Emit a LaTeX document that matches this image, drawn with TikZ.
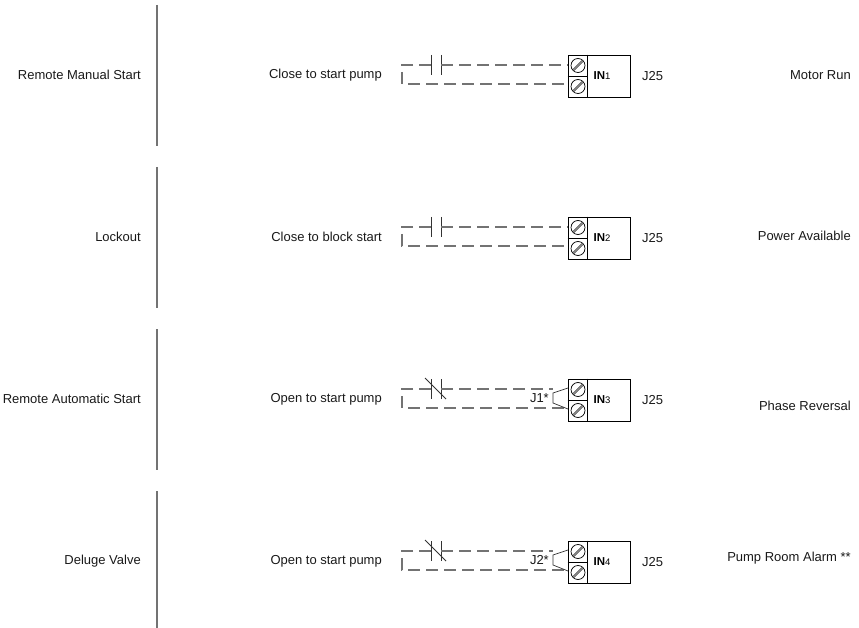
\documentclass[tikz,border=0pt]{standalone}
\usepackage{fontspec}
\setmainfont{Liberation Sans}
\begin{document}
\begin{tikzpicture}[x=1pt,y=-1pt]
	\tikzset{txt/.style = {font=\fontsize{13}{15}\selectfont, text=black!90, inner sep=0pt}}
	\tikzset{tblock/.style = {draw, line width=0.9pt, minimum width=62pt, minimum height=42pt, inner sep=0pt}}
	\tikzset{screw/.style = {shape=circle, draw, line width=0.7pt, minimum size=14pt, inner sep=0pt}}
	\tikzset{wire/.style = {draw=black!55, line width=1.3pt, dash pattern=on 12pt off 6pt}}
	\tikzset{contact/.style = {draw=black!80, line width=0.9pt}}
	\tikzset{sep/.style = {draw=black!55, line width=1.4pt}}
	\useasboundingbox (0,0) rectangle (859,628);
	% one row per input
	\foreach \i/\ytop/\lname/\mname/\rname/\ry in {1/55/Remote Manual Start/Close to start pump/Motor Run/20,
		2/217/Lockout/Close to block start/Power Available/19,
		3/379/Remote Automatic Start/Open to start pump/Phase Reversal/27,
		4/541/Deluge Valve/Open to start pump/Pump Room Alarm **/17}{
		\draw[sep] (157,\ytop-50) -- (157,\ytop+91);
		\node[txt, anchor=east] (lab\i) at (141,\ytop+20) {\lname};
		\node[txt, anchor=east] (mid\i) at (382,\ytop+20) {\mname};
		\node[txt, anchor=east] (out\i) at (851,\ytop+\ry) {\rname};
		\node[tblock] (blk\i) at (599,\ytop+21) {};
		\draw (blk\i.north west) ++(20,0) -- ++(0,42);
		\draw (blk\i.west) -- ++(20,0);
		\node[screw] (sa\i) at (578,\ytop+10.5) {};
		\node[screw] (sb\i) at (578,\ytop+31.5) {};
		\draw[line width=0.6pt] ([shift={(-5,4)}]sa\i.center) -- ([shift={(4,-5)}]sa\i.center);
		\draw[line width=0.6pt] ([shift={(-4,5)}]sa\i.center) -- ([shift={(5,-4)}]sa\i.center);
		\draw[line width=0.6pt] ([shift={(-5,4)}]sb\i.center) -- ([shift={(4,-5)}]sb\i.center);
		\draw[line width=0.6pt] ([shift={(-4,5)}]sb\i.center) -- ([shift={(5,-4)}]sb\i.center);
		\node[inner sep=0pt] (in\i) at (602,\ytop+21) {\fontsize{11.5}{13}\selectfont\textbf{IN}{\fontsize{9.5}{11}\selectfont\i}};
		\node[txt, anchor=west] (j\i) at (642,\ytop+21) {J25};
		\coordinate (ka\i) at (431,\ytop+10);
		\coordinate (kb\i) at (441,\ytop+10);
		\coordinate (ln\i) at (402,\ytop+10);
		\coordinate (wa\i) at (568,\ytop+10);
		\coordinate (wb\i) at (568,\ytop+29);
		\draw[wire] (ka\i) -- (ln\i) -- (ln\i |- wb\i) -- (wb\i);
		\draw[contact] (ka\i) ++(0,-10) -- ++(0,20);
		\draw[contact] (kb\i) ++(0,-10) -- ++(0,20);
	}
	% normally open contacts
	\foreach \i in {1,2}{
		\draw[wire] (kb\i) -- (wa\i);
	}
	% normally closed contacts with jumper
	\foreach \i/\j in {3/1,4/2}{
		\coordinate (jt\i) at ([xshift=-15pt]wa\i);
		\draw[contact] (ka\i) ++(-6,-11) -- ++(21,21);
		\draw[wire] (kb\i) -- (jt\i);
		\draw[contact, line width=0.7pt] (wa\i) ++(0,-1) -- ++(-15,5) -- ++(0,10) -- ([yshift=-1pt]wb\i);
		\node[txt, anchor=east] (jl\i) at ([shift={(-4,9.5)}]jt\i) {J\j*};
	}
\end{tikzpicture}
\end{document}
